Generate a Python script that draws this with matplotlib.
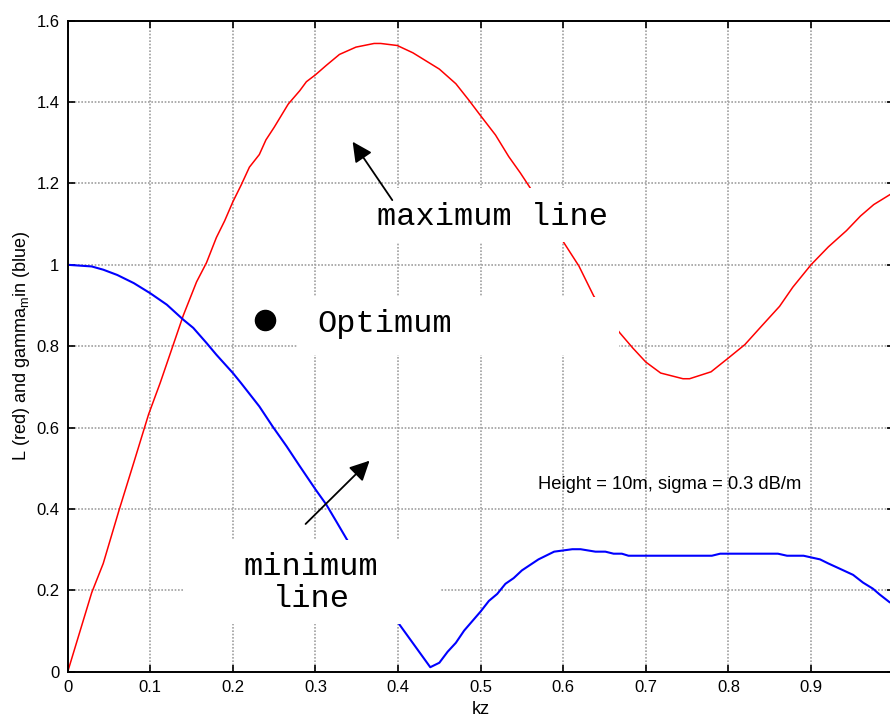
import matplotlib
matplotlib.use("Agg")
import matplotlib.pyplot as plt
from matplotlib.patches import Rectangle
from matplotlib.ticker import FixedLocator, FixedFormatter

# ---- data ----
red_x = [0, 0.029, 0.043, 0.062, 0.080, 0.098, 0.112, 0.126, 0.140, 0.156, 0.168, 0.180,
         0.190, 0.200, 0.210, 0.220, 0.232, 0.240, 0.250, 0.267, 0.281, 0.289, 0.300, 0.313,
         0.329, 0.349, 0.371, 0.379, 0.399, 0.418, 0.450, 0.470, 0.486, 0.499, 0.518, 0.534,
         0.548, 0.560, 0.599, 0.619, 0.637, 0.668, 0.684, 0.700, 0.718, 0.745, 0.753, 0.779,
         0.800, 0.820, 0.840, 0.862, 0.878, 0.900, 0.921, 0.943, 0.960, 0.976, 0.996, 1.0]
red_y = [0, 0.194, 0.266, 0.396, 0.514, 0.633, 0.710, 0.793, 0.876, 0.958, 1.005, 1.067,
         1.108, 1.155, 1.196, 1.240, 1.271, 1.307, 1.338, 1.395, 1.428, 1.450, 1.467, 1.490,
         1.517, 1.535, 1.544, 1.544, 1.539, 1.521, 1.481, 1.445, 1.404, 1.369, 1.319, 1.266,
         1.226, 1.189, 1.060, 0.997, 0.923, 0.834, 0.796, 0.761, 0.734, 0.720, 0.720, 0.737,
         0.771, 0.804, 0.849, 0.898, 0.945, 1.000, 1.044, 1.084, 1.120, 1.148, 1.173, 1.178]

blue_x = [0, 0.029, 0.043, 0.060, 0.080, 0.100, 0.120, 0.140, 0.152, 0.168, 0.180, 0.200,
          0.210, 0.232, 0.248, 0.265, 0.281, 0.300, 0.313, 0.325, 0.338, 0.402, 0.439, 0.450,
          0.460, 0.470, 0.480, 0.500, 0.510, 0.520, 0.530, 0.540, 0.550, 0.570, 0.589, 0.611,
          0.621, 0.639, 0.651, 0.661, 0.671, 0.679, 0.780, 0.790, 0.860, 0.871, 0.891, 0.911,
          0.921, 0.935, 0.951, 0.963, 0.975, 0.983, 0.995, 1.0]
blue_y = [1.000, 0.996, 0.988, 0.975, 0.955, 0.930, 0.902, 0.865, 0.845, 0.808, 0.779, 0.734,
          0.709, 0.652, 0.603, 0.554, 0.505, 0.448, 0.411, 0.370, 0.325, 0.115, 0.011, 0.022,
          0.049, 0.071, 0.101, 0.148, 0.174, 0.191, 0.216, 0.230, 0.249, 0.276, 0.295, 0.301,
          0.301, 0.295, 0.295, 0.290, 0.290, 0.285, 0.285, 0.290, 0.290, 0.285, 0.285, 0.276,
          0.266, 0.253, 0.238, 0.219, 0.204, 0.190, 0.171, 0.166]

optimum_x = [0.239]
optimum_y = [0.864]

x_ticks = [0, 0.1, 0.2, 0.3, 0.4, 0.5, 0.6, 0.7, 0.8, 0.9, 1.0]
x_tick_labels = ["0", "0.1", "0.2", "0.3", "0.4", "0.5", "0.6", "0.7", "0.8", "0.9", ""]
y_ticks = [0, 0.2, 0.4, 0.6, 0.8, 1.0, 1.2, 1.4, 1.6]
y_tick_labels = ["0", "0.2", "0.4", "0.6", "0.8", "1", "1.2", "1.4", "1.6"]

plt.rcParams['font.family'] = ['Liberation Sans', 'DejaVu Sans']
plt.rcParams['mathtext.fontset'] = 'custom'
plt.rcParams['mathtext.rm'] = 'Liberation Sans'

fig = plt.figure(figsize=(8.9, 7.18), dpi=100)
ax = fig.add_axes([0.0761, 0.0645, 0.9279, 0.9067])

ax.plot(red_x, red_y, color='#ff0000', lw=1.1, zorder=2)
ax.plot(blue_x, blue_y, color='#0000ff', lw=1.5, zorder=2)

ax.set_xlim(0, 1)
ax.set_ylim(0, 1.6)
ax.xaxis.set_major_locator(FixedLocator(x_ticks))
ax.xaxis.set_major_formatter(FixedFormatter(x_tick_labels))
ax.yaxis.set_major_locator(FixedLocator(y_ticks))
ax.yaxis.set_major_formatter(FixedFormatter(y_tick_labels))
ax.tick_params(direction='in', length=5, width=1.2, top=True, right=True,
               labelsize=12, pad=6, colors='black')
ax.grid(True, color='#a0a0a0', linestyle=(0, (1, 1)), lw=1.2, zorder=1.5)
for s in ax.spines.values():
    s.set_linewidth(1.4)

ax.set_xlabel('kz', fontsize=13, labelpad=4)
ax.set_ylabel(r'L (red) and gamma$_\mathregular{m}$in (blue)', fontsize=13, labelpad=3)

# white annotation backgrounds (cover lines and grid)
boxes = [(0.354, 1.056, 0.321, 0.132),
         (0.278, 0.778, 0.390, 0.143),
         (0.139, 0.117, 0.313, 0.207)]
for bx, by, bw, bh in boxes:
    ax.add_patch(Rectangle((bx, by), bw, bh, facecolor='white', edgecolor='none', zorder=3))

mono = dict(family=['Liberation Mono', 'DejaVu Sans Mono'], fontsize=23, color='black',
            zorder=4, fontweight='light')
ax.text(0.514, 1.098, 'maximum line', ha='center', va='baseline', **mono)
ax.text(0.302, 0.834, 'Optimum', ha='left', va='baseline', **mono)
ax.text(0.2945, 0.238, 'minimum', ha='center', va='baseline', **mono)
ax.text(0.2945, 0.160, 'line', ha='center', va='baseline', **mono)

ax.plot(optimum_x, optimum_y, 'o', color='black', markersize=14.5, zorder=5)

arrow = dict(arrowstyle='-|>,head_length=0.6,head_width=0.3', color='black', lw=1.3,
             mutation_scale=20, shrinkA=0, shrinkB=0)
ax.annotate('', xy=(0.345, 1.3025), xytext=(0.393, 1.159), arrowprops=arrow, zorder=6)
ax.annotate('', xy=(0.3655, 0.5186), xytext=(0.288, 0.363), arrowprops=arrow, zorder=6)

ax.text(0.7285, 0.449, 'Height = 10m, sigma = 0.3 dB/m', ha='center', va='baseline',
        fontsize=13.2, zorder=4)

fig.savefig('out.png', dpi=100)
